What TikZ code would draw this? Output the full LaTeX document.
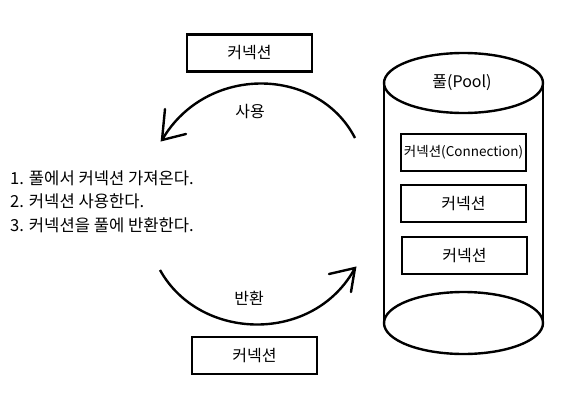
\documentclass[tikz,border=0pt]{standalone}
\usepackage{fontspec}
\setmainfont{Noto Sans CJK KR}
\begin{document}
\begin{tikzpicture}[x=1pt,y=-1pt,
  box/.style={draw,line width=2.6pt,minimum width=125pt,minimum height=37pt,inner sep=0pt,font=\fontsize{16}{18}\selectfont},
  lbl/.style={font=\fontsize{16}{18}\selectfont,inner sep=0pt},
  listtext/.style={font=\fontsize{16.6}{18}\selectfont,inner sep=0pt,anchor=west},
  thick line/.style={line width=2.4pt}]
\useasboundingbox (0,0) rectangle (580,402);
% top and bottom boxes
\node[box] (topbox) at (249.5,53) {커넥션};
\node[box] (botbox) at (254.5,355.5) {커넥션};
% cylinder
\coordinate (cyl) at (463.5,83);
\draw[thick line] (384,83) -- (384,323);
\draw[thick line] (543,83) -- (543,323);
\draw[thick line,fill=white] (463.5,83) ellipse [x radius=79.5, y radius=30];
\draw[thick line] (463.5,323) ellipse [x radius=79.5, y radius=31];
\node[lbl] (pool) at (462,83) {풀(Pool)};
\node[box,font=\fontsize{13.5}{15}\selectfont] (c1) at (463.5,152.5) {커넥션(Connection)};
\node[box] (c2) at (463.5,203.5) {커넥션};
\node[box] (c3) at (464.5,255.5) {커넥션};
% arcs
\coordinate (a1s) at (355,138);
\coordinate (a1e) at (162,140);
\coordinate (a1b1) at (165,109);
\coordinate (a1b2) at (186,134);
\draw[thick line] (a1s) .. controls (318,66) and (206,64) .. (a1e);
\draw[thick line,line cap=round] (a1b1) -- (a1e) -- (a1b2);
\node[lbl] (use) at (250,112) {사용};
\coordinate (a2s) at (160,270);
\coordinate (a2e) at (355,268);
\coordinate (a2b1) at (329,274);
\coordinate (a2b2) at (351,292);
\draw[thick line] (a2s) .. controls (200,342) and (314,344) .. (a2e);
\draw[thick line,line cap=round] (a2b1) -- (a2e) -- (a2b2);
\node[lbl] (ret) at (249,298) {반환};
% list
\node[listtext] (l1) at (10,178) {1. 풀에서 커넥션 가져온다.};
\node[listtext] (l2) at (10,201.5) {2. 커넥션 사용한다.};
\node[listtext] (l3) at (10,225) {3. 커넥션을 풀에 반환한다.};
\end{tikzpicture}
\end{document}
